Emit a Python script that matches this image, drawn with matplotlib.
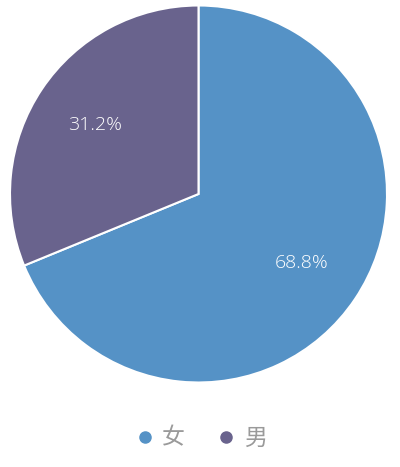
import matplotlib
matplotlib.use("Agg")
import matplotlib.pyplot as plt
from matplotlib.lines import Line2D

labels = ["女", "男"]
shares = [68.8, 31.2]
colors = ["#5592c6", "#69638d"]

fig = plt.figure(figsize=(4.0, 4.67), dpi=100)
ax = fig.add_axes([0.025, 0.1799, 0.9425, 0.8094])
wedges, _texts, autotexts = ax.pie(
    shares, colors=colors, startangle=90, counterclock=False,
    autopct=lambda p: f"{p:.1f}%", pctdistance=0.66,
    wedgeprops=dict(edgecolor="white", linewidth=1.5),
)
for t in autotexts:
    t.set_color("white")
    t.set_fontsize(14)
    t.set_family(["Open Sans", "DejaVu Sans"])
    t.set_fontweight("light")
ax.set_xlim(-1, 1)
ax.set_ylim(-1, 1)
ax.set_aspect("equal")
ax.axis("off")

handles = [Line2D([], [], marker="o", linestyle="none", markersize=8,
                  markerfacecolor=c, markeredgecolor=c) for c in colors]
fig.legend(handles, labels, loc="center", bbox_to_anchor=(0.5, 0.062),
           ncol=2, frameon=False, handletextpad=0.25, columnspacing=1.3,
           handlelength=1.0,
           prop=dict(family=["Noto Sans CJK SC", "DejaVu Sans"], size=16.5, weight="light"),
           labelcolor="#9a9a9a")

fig.savefig("out.png", dpi=100)
